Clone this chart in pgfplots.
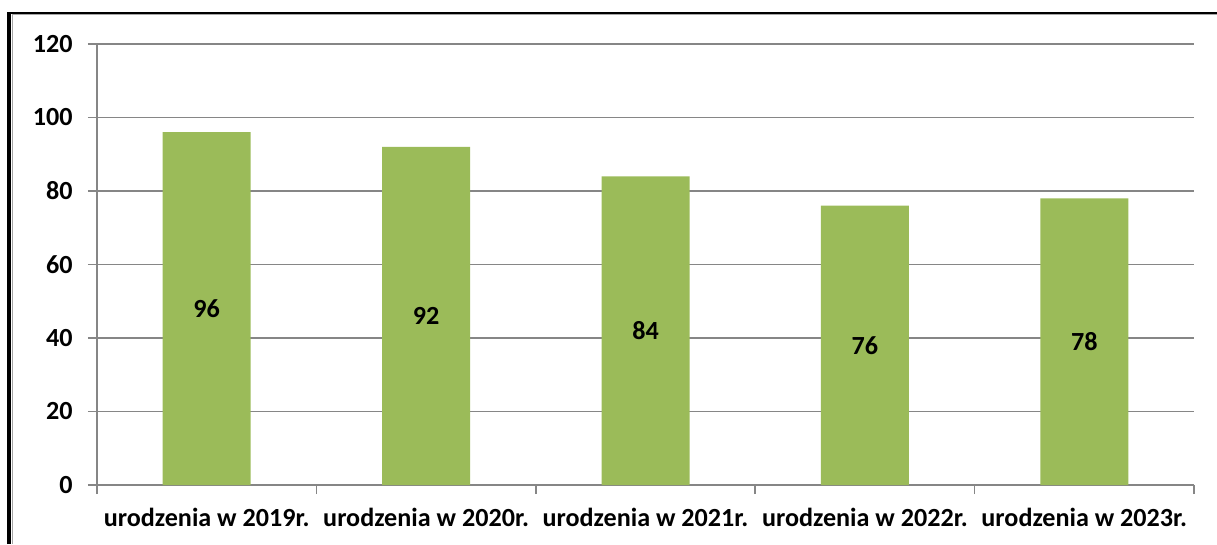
\documentclass[border=0pt]{standalone}
\usepackage{pgfplots}
\pgfplotsset{compat=1.18}
\usepackage{fontspec}
\setmainfont{Carlito}
\definecolor{bargreen}{HTML}{9BBB59}
\definecolor{gridgray}{HTML}{868686}
\definecolor{shadowgray}{HTML}{A6A6A6}
\begin{document}
\begin{tikzpicture}
\useasboundingbox (0,0) rectangle (912.75pt,408pt);
\draw[black, line width=3pt] (6.75pt,0) -- (6.75pt,399pt);
\draw[black, line width=1.5pt] (5.25pt,398.25pt) -- (912.75pt,398.25pt);
\draw[shadowgray, line width=0.75pt] (9.375pt,0) -- (9.375pt,397.1pt) -- (912.75pt,397.1pt);
\begin{axis}[
  at={(72.75pt,44.25pt)}, anchor=south west,
  scale only axis, width=822.75pt, height=330.75pt,
  ybar, bar width=66pt,
  xmin=-0.5, xmax=4.5, ymin=0, ymax=120,
  ytick={0,20,...,120},
  xtick={-0.5,0.5,1.5,2.5,3.5,4.5},
  x tick label as interval,
  xticklabels={urodzenia w 2019r.,urodzenia w 2020r.,urodzenia w 2021r.,urodzenia w 2022r.,urodzenia w 2023r.},
  axis x line*=bottom, axis y line*=left,
  axis line style={gridgray, line width=1.1pt},
  ymajorgrids, grid style={gridgray, line width=1.1pt},
  tick align=outside, tick style={gridgray, line width=1.1pt}, major tick length=6.75pt,
  ticklabel style={font=\fontsize{19.6}{23}\selectfont\bfseries, text=black},
  xticklabel style={yshift=-7pt},
  yticklabel style={xshift=-8pt},
  /pgf/number format/assume math mode=true,
  nodes near coords,
  visualization depends on={rawy \as \rawy},
  every node near coord/.append style={anchor=center, font=\fontsize{19.6}{23}\selectfont\bfseries, text=black, yshift={-1.378125*\rawy*1pt}},
  clip=false,
]
\addplot[fill=bargreen, draw=none] coordinates {(0,96) (1,92) (2,84) (3,76) (4,78)};
\end{axis}
\end{tikzpicture}
\end{document}
